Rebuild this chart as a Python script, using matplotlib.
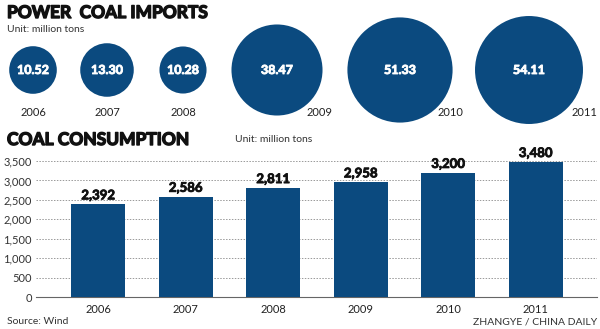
import matplotlib
matplotlib.use("Agg")
import matplotlib.pyplot as plt
import matplotlib.patheffects as pe
import numpy as np

years = ["2006", "2007", "2008", "2009", "2010", "2011"]
imports = [10.52, 13.30, 10.28, 38.47, 51.33, 54.11]
imports_lbl = ["10.52", "13.30", "10.28", "38.47", "51.33", "54.11"]
consumption = [2392, 2586, 2811, 2958, 3200, 3480]
consumption_lbl = ["2,392", "2,586", "2,811", "2,958", "3,200", "3,480"]
yticks = [0, 500, 1000, 1500, 2000, 2500, 3000, 3500]
ytick_lbl = ["0", "500", "1,000", "1,500", "2,000", "2,500", "3,000", "3,500"]

# layout (pixels in a 600x329 canvas)
circle_x = [33, 107, 183, 277, 400, 529]
circle_y = 70
year_lbl_x = [33, 107, 183, 320, 450, 584]
BLUE = "#0b4a7f"
FONT = ["Lato", "DejaVu Sans"]
plt.rcParams["font.family"] = FONT

def heavy(color, lw):
    return [pe.withStroke(linewidth=lw, foreground=color)]

fig = plt.figure(figsize=(6, 3.29), dpi=100)

# overlay axes in pixel coords
ov = fig.add_axes([0, 0, 1, 1])
ov.set_xlim(0, 600)
ov.set_ylim(329, 0)
ov.axis("off")

ov.text(7, 13, "POWER  COAL IMPORTS", fontsize=12.5, fontweight="bold",
        va="center", ha="left", color="#111111", path_effects=heavy("#111111", 1.0))
ov.text(7, 30, "Unit: million tons", fontsize=7.5, va="center", ha="left", color="#333333")

sizes = [111.7 * v for v in imports]
ov.scatter(circle_x, [circle_y] * len(imports), s=sizes, color=BLUE, linewidths=0, zorder=2)
for x, lbl in zip(circle_x, imports_lbl):
    ov.text(x, circle_y, lbl, color="white", fontsize=9, fontweight="bold",
            ha="center", va="center", zorder=3, path_effects=heavy("white", 0.6))
for x, y in zip(year_lbl_x, years):
    ov.text(x, 113, y, fontsize=8, ha="center", va="center", color="#222222")

ov.text(7, 140, "COAL CONSUMPTION", fontsize=12.5, fontweight="bold",
        va="center", ha="left", color="#111111", path_effects=heavy("#111111", 1.0))
ov.text(235, 140, "Unit: million tons", fontsize=7.5, va="center", ha="left", color="#333333")
ov.text(7, 322, "Source: Wind", fontsize=7.5, va="center", ha="left", color="#333333")
ov.text(597, 322, "ZHANGYE / CHINA DAILY", fontsize=7.5, va="center", ha="right", color="#333333")

# bar chart
ax = fig.add_axes([36 / 600, 1 - 297 / 329, 561 / 600, (297 - 161) / 329])
x = np.arange(len(years))
ax.bar(x, consumption, width=0.62, color=BLUE, zorder=3)
for xi, v, lbl in zip(x, consumption, consumption_lbl):
    ax.text(xi, v + 70, lbl, ha="center", va="bottom", fontsize=9.5,
            fontweight="bold", color="#111111", clip_on=False,
            path_effects=heavy("#111111", 0.6))
ax.set_xlim(-0.71, 5.70)
ax.set_ylim(0, 3500)
ax.set_yticks(yticks)
ax.set_yticklabels(ytick_lbl, fontsize=8, color="#333333")
ax.set_xticks(x)
ax.set_xticklabels(years, fontsize=8, color="#222222")
ax.tick_params(axis="both", length=0, pad=3)
ax.tick_params(axis="x", pad=5)
for yv in yticks[1:]:
    ax.axhline(yv, color="#999999", linestyle=(0, (1.5, 1.5)), linewidth=0.7, zorder=1)
for s in ["top", "right", "left"]:
    ax.spines[s].set_visible(False)
ax.spines["bottom"].set_color("#666666")
ax.spines["bottom"].set_linewidth(0.8)
ax.patch.set_alpha(0)

fig.savefig("out.png", dpi=100)
